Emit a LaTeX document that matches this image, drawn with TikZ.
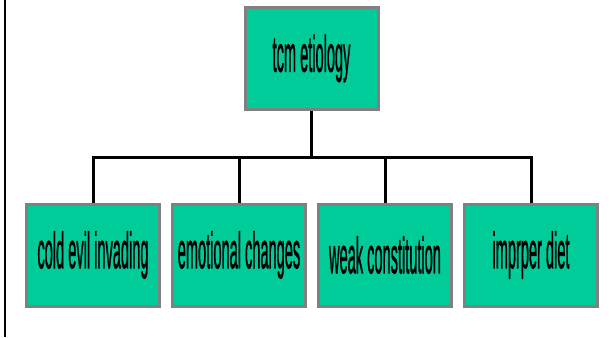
\documentclass[tikz,border=0pt]{standalone}
\usepackage{fontspec}
\setmainfont{Liberation Sans}
\newfontfamily\lblfont[FakeBold=1.5]{Liberation Sans}
\usepackage{graphicx}
\definecolor{boxgreen}{RGB}{0,204,153}
\definecolor{boxgray}{RGB}{128,128,128}
\newcommand\lbl[1]{\scalebox{0.286}[1]{\lblfont\fontsize{51}{51}\selectfont #1}}
\begin{document}
\begin{tikzpicture}[x=1pt,y=-1pt,
  box/.style={draw=boxgray, line width=3pt, fill=boxgreen,
    minimum width=133pt, minimum height=102pt, inner sep=0pt},
  link/.style={draw=black, line width=3pt}]
\useasboundingbox (0,0) rectangle (609,337);
\coordinate (lt) at (5,0);
\coordinate (lb) at (5,337);
\draw[line width=2pt] (lt) -- (lb);
\node[box] (top) at (311.5,58.5) {\lbl{tcm etiology}};
\node[box] (c1) at (93,255) {\lbl{cold evil invading}};
\node[box] (c2) at (239,255) {\lbl{emotional changes}};
\node[box] (c3) at (385,255) {\lbl{weak constitution}};
\node[box] (c4) at (531,255) {\lbl{imprper diet}};
\coordinate (bus) at (311.5,157);
\draw[link] (top.south) -- (top.south |- bus);
\draw[link] (c1.north) |- (c4.north |- bus) -- (c4.north);
\draw[link] (c2.north) -- (c2.north |- bus);
\draw[link] (c3.north) -- (c3.north |- bus);
\end{tikzpicture}
\end{document}
